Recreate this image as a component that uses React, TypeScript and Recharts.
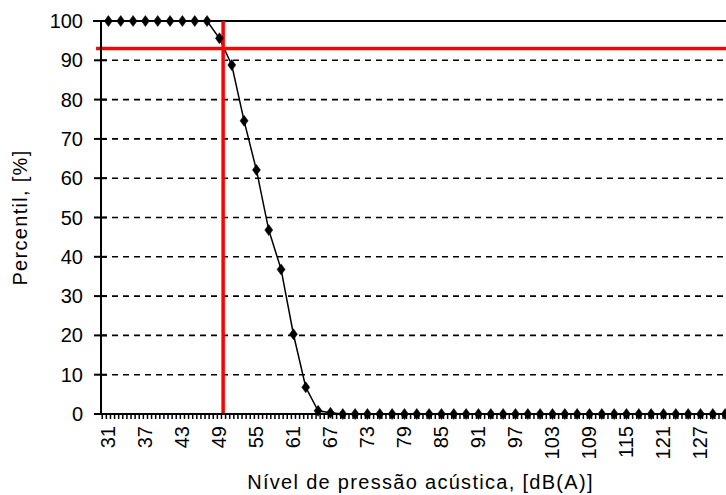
import React from 'react';
import { LineChart, Line, XAxis, YAxis, CartesianGrid, ReferenceLine } from 'recharts';

// Sound pressure level categories [dB(A)]
const levels: number[] = [
  31, 33, 35, 37, 39, 41, 43, 45, 47, 49, 51, 53, 55, 57, 59, 61, 63, 65, 67, 69,
  71, 73, 75, 77, 79, 81, 83, 85, 87, 89, 91, 93, 95, 97, 99, 101, 103, 105, 107, 109,
  111, 113, 115, 117, 119, 121, 123, 125, 127, 129, 131, 133, 135,
];

// Percentile [%]
const percentile: number[] = [
  100, 100, 100, 100, 100, 100, 100, 100, 100, 95.6, 88.8, 74.6, 62.1, 46.8, 36.8, 20.3, 6.8, 0.8, 0.3, 0,
  0, 0, 0, 0, 0, 0, 0, 0, 0, 0, 0, 0, 0, 0, 0, 0, 0, 0, 0, 0,
  0, 0, 0, 0, 0, 0, 0, 0, 0, 0, 0, 0, 0,
];

const xLabelTicks: number[] = [31, 37, 43, 49, 55, 61, 67, 73, 79, 85, 91, 97, 103, 109, 115, 121, 127];
const yTicks: number[] = [0, 10, 20, 30, 40, 50, 60, 70, 80, 90, 100];

const markerLevel = 49.6;
const markerPercent = 93;

const X_MIN = 29.8;
const X_MAX = 136;

const minorTicks: number[] = Array.from({ length: 160 }, (_, k) => 30 + (k * 2) / 3).filter((v) => v <= X_MAX);
const allXTicks: number[] = [...minorTicks, ...xLabelTicks].sort((a, b) => a - b);

const data = levels.map((db, i) => ({ db, p: percentile[i] }));

const FONT = '"Liberation Sans", Arial, sans-serif';

const XTick = (props: any) => {
  const { x, y, payload } = props;
  const v = payload.value;
  const isLabel = xLabelTicks.includes(v);
  if (isLabel) {
    return (
      <g transform={`translate(${x},${y + 12})`}>
        <text
          transform="rotate(-90)"
          textAnchor="end"
          dominantBaseline="central"
          fontFamily={FONT}
          fontSize={20}
          fill="#000"
        >
          {v}
        </text>
      </g>
    );
  }
  return <line x1={x} y1={y} x2={x} y2={y + 5} stroke="#000" strokeWidth={1.5} />;
};

const YTick = (props: any) => {
  const { x, y, payload } = props;
  return (
    <g>
      <line x1={x - 7} y1={y} x2={x + 6} y2={y} stroke="#000" strokeWidth={2} />
      <text
        x={x - 18}
        y={y}
        textAnchor="end"
        dominantBaseline="central"
        fontFamily={FONT}
        fontSize={20}
        fill="#000"
      >
        {payload.value}
      </text>
    </g>
  );
};

const Diamond = (props: any) => {
  const { cx, cy, index } = props;
  if (cx == null || cy == null) return <g key={index} />;
  return (
    <polygon
      key={index}
      points={`${cx},${cy - 5.5} ${cx + 4},${cy} ${cx},${cy + 5.5} ${cx - 4},${cy}`}
      fill="#000"
      stroke="#000"
      strokeWidth={0.5}
    />
  );
};

export default function App() {
  return (
    <div
      style={{
        position: 'fixed',
        left: 0,
        top: 0,
        width: 726,
        height: 495,
        overflow: 'hidden',
        background: '#fff',
      }}
    >
      <LineChart width={756} height={495} data={data} margin={{ top: 21, right: 0, bottom: 0, left: 1 }}>
        <CartesianGrid horizontal vertical={false} stroke="#000" strokeWidth={1.6} strokeDasharray="6 5" />
        <XAxis
          type="number"
          dataKey="db"
          domain={[X_MIN, X_MAX]}
          ticks={allXTicks}
          interval={0}
          allowDataOverflow
          height={81}
          tickSize={0}
          tickMargin={0}
          tickLine={false}
          axisLine={{ stroke: '#000', strokeWidth: 2 }}
          tick={<XTick />}
          label={{
            content: (p: any) => {
              const vb = p.viewBox;
              return (
                <text
                  x={vb.x + vb.width / 2 - 8}
                  y={489}
                  textAnchor="middle"
                  fontFamily={FONT}
                  fontSize={20}
                  letterSpacing={1.3}
                  fill="#000"
                >
                  Nível de pressão acústica, [dB(A)]
                </text>
              );
            },
          }}
        />
        <YAxis
          type="number"
          domain={[0, 100]}
          ticks={yTicks}
          interval={0}
          width={100}
          tickSize={0}
          tickMargin={0}
          tickLine={false}
          axisLine={{ stroke: '#000', strokeWidth: 2 }}
          tick={<YTick />}
          label={{
            content: (p: any) => {
              const vb = p.viewBox;
              const cy = vb.y + vb.height / 2;
              return (
                <text
                  transform={`translate(27, ${cy}) rotate(-90)`}
                  textAnchor="middle"
                  fontFamily={FONT}
                  fontSize={20}
                  letterSpacing={1.3}
                  fill="#000"
                >
                  Percentil, [%]
                </text>
              );
            },
          }}
        />
        <ReferenceLine
          ifOverflow="visible"
          segment={[
            { x: 28.5, y: 100 },
            { x: X_MAX, y: 100 },
          ]}
          stroke="#000"
          strokeWidth={2}
        />
        <Line
          type="linear"
          dataKey="p"
          stroke="#000"
          strokeWidth={1.5}
          dot={Diamond}
          activeDot={false}
          isAnimationActive={false}
        />
        <ReferenceLine x={markerLevel} stroke="#ff0000" strokeWidth={3.5} ifOverflow="visible" />
        <ReferenceLine
          ifOverflow="visible"
          segment={[
            { x: 29.0, y: markerPercent },
            { x: X_MAX, y: markerPercent },
          ]}
          stroke="#ff0000"
          strokeWidth={3.5}
        />
      </LineChart>
    </div>
  );
}
